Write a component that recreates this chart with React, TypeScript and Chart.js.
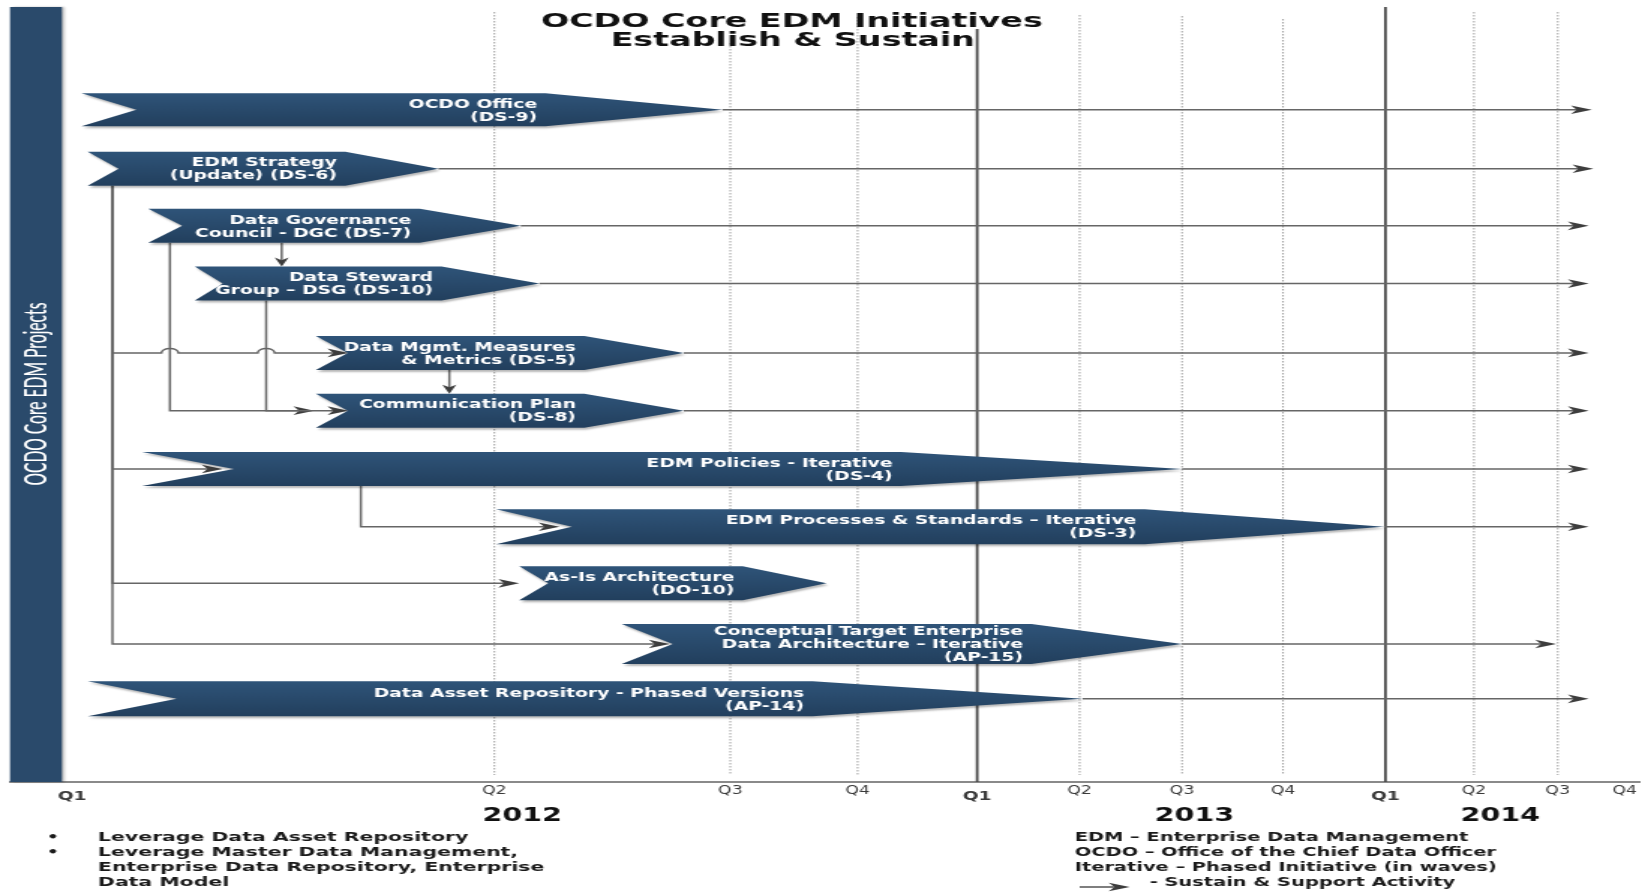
import React, { useEffect, useRef } from 'react';
import { Chart, registerables } from 'chart.js';

Chart.register(...registerables);

// ---------------- data (timeline units on x, row positions on y) ----------------
const quarterLabels = ['Q1', 'Q2', 'Q3', 'Q4', 'Q1', 'Q2', 'Q3', 'Q4', 'Q1', 'Q2', 'Q3', 'Q4'];
const quarterValues = [0, 27.2, 42.4, 50.6, 58.3, 64.9, 71.5, 78.0, 84.6, 90.3, 95.7, 100];
const yearLabels = ['2012', '2013', '2014'];
const yearValues = [29.0, 72.3, 92.0];

const projectLabels: string[][] = [
  ['OCDO Office', '(DS-9)'],
  ['EDM Strategy', '(Update) (DS-6)'],
  ['Data Governance', 'Council - DGC (DS-7)'],
  ['Data Steward', 'Group – DSG (DS-10)'],
  ['Data Mgmt. Measures', '& Metrics (DS-5)'],
  ['Communication Plan', '(DS-8)'],
  ['EDM Policies - Iterative', '(DS-4)'],
  ['EDM Processes & Standards – Iterative', '(DS-3)'],
  ['As-Is Architecture', '(DO-10)'],
  ['Conceptual Target Enterprise', 'Data Architecture – Iterative', '(AP-15)'],
  ['Data Asset Repository - Phased Versions', '(AP-14)'],
];
const rowValues = [1, 2.02, 3.01, 4.01, 5.21, 6.21, 7.22, 8.22, 9.2, 10.25, 11.2];
const startValues = [0.6, 1.0, 4.9, 7.9, 15.7, 15.7, 4.5, 27.3, 28.8, 35.4, 1.0];
const taperValues = [30.5, 17.6, 22.4, 23.8, 33.0, 33.0, 53.4, 69.1, 43.2, 61.8, 47.7];
const endValues = [41.9, 23.6, 28.9, 30.1, 39.4, 39.4, 71.5, 84.5, 48.6, 71.5, 65.1];
const sustainValues: (number | null)[] = [97.9, 98.0, 97.7, 97.7, 97.7, 97.7, 97.7, 97.7, null, 95.6, 97.7];

// dependency links: [fromRow, toRow, drop at (x), arrow tip at (x)]
const elbowLinks = [
  [1, 4, 2.6, 17.8],
  [1, 6, 2.6, 9.7],
  [1, 8, 2.6, 28.8],
  [1, 9, 2.6, 38.5],
  [2, 5, 6.3, 15.6],
  [3, 5, 12.5, 17.8],
  [6, 7, 18.6, 31.4],
];
// straight down links: [fromRow, toRow, x]
const dropLinks = [
  [2, 3, 13.5],
  [4, 5, 24.3],
];
// line hops: [row, x]
const hopMarks = [
  [4, 6.3],
  [4, 12.5],
];

const leftNotes = [
  'Leverage Data Asset Repository',
  'Leverage Master Data Management,',
  'Enterprise Data Repository, Enterprise',
  'Data Model',
];
const leftNoteBullets = [true, true, false, false];
const rightNotes = [
  'EDM – Enterprise Data Management',
  'OCDO – Office of the Chief Data Officer',
  'Iterative – Phased Initiative (in waves)',
  '- Sustain & Support Activity',
];

// ---------------- style ----------------
const SX = 1.5; // the picture is stretched horizontally
const CANVAS_W = Math.round(1648 / SX);
const CANVAS_H = 893;
const lg = (px: number) => px / SX;
const FONT = '"DejaVu Sans", Verdana, sans-serif';
const NAVY_TOP = '#2f5479';
const NAVY_BOTTOM = '#223f5d';
const BAND = '#2a4a6b';
const notchPx = [55, 31, 34, 28, 32, 32, 92, 76, 29, 51, 89];
const barHeightPx = [33, 34, 34, 34, 34, 34, 34, 35, 34, 40, 35];
const gridTopPx: (number | null)[] = [null, 12, 43, 17, 29, 15, 16, 19, 7, 12, 12, null];

function drawText(ctx: any, s: string, x: number, y: number, font: string, color: string, align: string, stretch = 1) {
  ctx.save();
  ctx.font = font;
  ctx.fillStyle = color;
  ctx.textAlign = align;
  ctx.textBaseline = 'middle';
  ctx.translate(x, y);
  ctx.scale(stretch, 1);
  ctx.fillText(s, 0, 0);
  ctx.restore();
}

function arrowRight(ctx: any, x: number, y: number) {
  const len = lg(21);
  const hw = 4.3;
  ctx.beginPath();
  ctx.moveTo(x, y);
  ctx.lineTo(x - len, y - hw);
  ctx.lineTo(x - len * 0.72, y);
  ctx.lineTo(x - len, y + hw);
  ctx.closePath();
  ctx.fill();
}

function arrowDown(ctx: any, x: number, y: number) {
  const len = 9;
  const hw = lg(7);
  ctx.beginPath();
  ctx.moveTo(x, y);
  ctx.lineTo(x - hw, y - len);
  ctx.lineTo(x, y - len * 0.7);
  ctx.lineTo(x + hw, y - len);
  ctx.closePath();
  ctx.fill();
}

const ganttPlugin = {
  id: 'gantt',
  beforeDatasetsDraw(chart: any) {
    const { ctx, chartArea: ca, scales } = chart;
    const xs = scales.x;
    ctx.save();
    quarterValues.forEach((v, i) => {
      const top = gridTopPx[i];
      if (top == null) return;
      const px = xs.getPixelForValue(v);
      const solid = quarterLabels[i] === 'Q1';
      ctx.beginPath();
      ctx.setLineDash(solid ? [] : [1.5, 1.5]);
      ctx.strokeStyle = solid ? '#4a4a4a' : '#a6a6a6';
      ctx.lineWidth = solid ? 1.8 : 1.1;
      ctx.moveTo(px, top);
      ctx.lineTo(px, solid ? ca.bottom : ca.bottom - 7);
      ctx.stroke();
    });
    ctx.setLineDash([]);
    // left band
    ctx.save();
    ctx.shadowColor = 'rgba(0,0,0,0.25)';
    ctx.shadowOffsetX = 2;
    ctx.shadowBlur = 2;
    ctx.fillStyle = BAND;
    ctx.fillRect(ca.left, ca.top, lg(62) - ca.left, ca.bottom - ca.top);
    ctx.restore();
    // vertical label
    ctx.save();
    ctx.font = '500 22px Lato, "Open Sans", sans-serif';
    const label = 'OCDO Core EDM Projects';
    const w = ctx.measureText(label).width;
    ctx.translate(lg(35.5), 394);
    ctx.rotate(-Math.PI / 2);
    ctx.scale(183 / w, 1);
    ctx.fillStyle = '#ffffff';
    ctx.textAlign = 'center';
    ctx.textBaseline = 'middle';
    ctx.fillText(label, 0, 0);
    ctx.restore();
    ctx.restore();
  },
  afterDatasetsDraw(chart: any) {
    const { ctx, scales } = chart;
    const xs = scales.x;
    const meta = chart.getDatasetMeta(0);
    const rows = meta.data.map((el: any, i: number) => ({ start: el.base, end: el.x, y: el.y, h: barHeightPx[i] }));
    ctx.save();
    ctx.strokeStyle = '#666666';
    ctx.fillStyle = '#3d3d3d';
    ctx.lineWidth = 1.5;
    // sustain lines
    rows.forEach((r: any, i: number) => {
      const s = sustainValues[i];
      if (s == null) return;
      const px = xs.getPixelForValue(s);
      ctx.beginPath();
      ctx.moveTo(r.end, r.y);
      ctx.lineTo(px - lg(12), r.y);
      ctx.stroke();
      arrowRight(ctx, px, r.y);
    });
    // elbow links
    const rX = lg(8.5);
    const rY = 4.5;
    elbowLinks.forEach(([from, to, dropAt, tipAt]) => {
      const a = rows[from];
      const b = rows[to];
      const dx = xs.getPixelForValue(dropAt);
      const tx = xs.getPixelForValue(tipAt);
      ctx.beginPath();
      ctx.moveTo(dx, a.y + a.h / 2);
      ctx.lineTo(dx, b.y);
      const hx = hopMarks
        .filter((h) => h[0] === to)
        .map((h) => xs.getPixelForValue(h[1]))
        .filter((p) => p > dx + rX && p < tx)
        .sort((p, q) => p - q);
      hx.forEach((p) => {
        ctx.lineTo(p - rX, b.y);
        ctx.ellipse(p, b.y, rX, rY, 0, Math.PI, 2 * Math.PI);
      });
      ctx.lineTo(tx - lg(12), b.y);
      ctx.stroke();
      arrowRight(ctx, tx, b.y);
    });
    dropLinks.forEach(([from, to, at]) => {
      const a = rows[from];
      const b = rows[to];
      const px = xs.getPixelForValue(at);
      const yEnd = b.y - b.h / 2;
      ctx.beginPath();
      ctx.moveTo(px, a.y + a.h / 2);
      ctx.lineTo(px, yEnd - 6);
      ctx.stroke();
      arrowDown(ctx, px, yEnd);
    });
    // chevrons
    rows.forEach((r: any, i: number) => {
      const s = xs.getPixelForValue(taperValues[i]);
      const n = r.start + lg(notchPx[i]);
      const top = r.y - r.h / 2;
      const bot = r.y + r.h / 2;
      const g = ctx.createLinearGradient(0, top, 0, bot);
      g.addColorStop(0, NAVY_TOP);
      g.addColorStop(1, NAVY_BOTTOM);
      ctx.save();
      ctx.shadowColor = 'rgba(0,0,0,0.28)';
      ctx.shadowOffsetX = 1.2;
      ctx.shadowOffsetY = 2;
      ctx.shadowBlur = 2;
      ctx.beginPath();
      ctx.moveTo(r.start, top);
      ctx.lineTo(s, top);
      ctx.lineTo(r.end, r.y);
      ctx.lineTo(s, bot);
      ctx.lineTo(r.start, bot);
      ctx.lineTo(n, r.y);
      ctx.closePath();
      ctx.fillStyle = g;
      ctx.fill();
      ctx.restore();
      const lines = projectLabels[i];
      const rx = s - lg(8.5);
      lines.forEach((t, k) =>
        drawText(ctx, t, rx, r.y + 1 + (k - (lines.length - 1) / 2) * 13, `bold 12.5px ${FONT}`, '#ffffff', 'right')
      );
    });
    ctx.restore();
  },
  afterDraw(chart: any) {
    const { ctx } = chart;
    ctx.save();
    drawText(ctx, 'OCDO Core EDM Initiatives', lg(792), 21.5, `bold 20px ${FONT}`, '#111111', 'center', 1.11);
    drawText(ctx, 'Establish & Sustain', lg(793), 41, `bold 20px ${FONT}`, '#111111', 'center', 1.11);
    const noteFont = `bold 12.5px ${FONT}`;
    leftNotes.forEach((t, i) => {
      const y = 838 + i * 15;
      if (leftNoteBullets[i]) drawText(ctx, '•', lg(53), y, noteFont, '#1a1a1a', 'center');
      drawText(ctx, t, lg(98), y, noteFont, '#1a1a1a', 'left', 1.09);
    });
    rightNotes.forEach((t, i) => {
      const y = 838 + i * 15;
      if (i === rightNotes.length - 1) {
        ctx.strokeStyle = '#555555';
        ctx.fillStyle = '#3d3d3d';
        ctx.lineWidth = 1.5;
        ctx.beginPath();
        ctx.moveTo(lg(1080), y + 4);
        ctx.lineTo(lg(1120), y + 4);
        ctx.stroke();
        arrowRight(ctx, lg(1130), y + 4);
        drawText(ctx, t, lg(1150), y, noteFont, '#1a1a1a', 'left', 1.035);
      } else {
        drawText(ctx, t, lg(1075), y, noteFont, '#1a1a1a', 'left', 1.035);
      }
    });
    ctx.restore();
  },
};

export default function App() {
  const ref = useRef<HTMLCanvasElement>(null);
  useEffect(() => {
    const canvas = ref.current as HTMLCanvasElement;
    const chart = new Chart(canvas, {
      type: 'bar',
      data: {
        datasets: [
          {
            label: 'Initiatives',
            data: rowValues.map((r, i) => ({ y: r, x: [startValues[i], endValues[i]] })) as any,
            backgroundColor: 'rgba(0,0,0,0)',
            borderWidth: 0,
            barThickness: 34,
          },
        ],
      },
      options: {
        indexAxis: 'y',
        responsive: false,
        animation: false,
        devicePixelRatio: 1,
        layout: { padding: { left: lg(10), right: lg(8), top: 7, bottom: 0 } },
        plugins: { legend: { display: false }, tooltip: { enabled: false }, title: { display: false } },
        scales: {
          y: { type: 'linear', reverse: true, min: -0.78, max: 12.64, display: false, offset: false },
          x: {
            type: 'linear',
            position: 'bottom',
            min: -4,
            max: 101,
            offset: false,
            grid: { display: false, drawTicks: false },
            border: { display: true, color: '#8a8a8a', width: 2 },
            afterBuildTicks: (s: any) => {
              s.ticks = quarterValues.map((v) => ({ value: v }));
            },
            afterFit: (s: any) => {
              s.height = 20;
            },
            ticks: {
              autoSkip: false,
              maxRotation: 0,
              minRotation: 0,
              padding: 2,
              color: '#3a3a3a',
              font: (c: any) =>
                quarterLabels[c.index] === 'Q1'
                  ? { family: 'DejaVu Sans', size: 12.5, weight: 'bold', lineHeight: 2.03 }
                  : { family: 'DejaVu Sans', size: 11.5, weight: 'normal', lineHeight: 1.25 },
              callback: (_v: any, i: number) => quarterLabels[i],
            },
          },
          x2: {
            type: 'linear',
            position: 'bottom',
            weight: 1,
            min: -4,
            max: 101,
            offset: false,
            grid: { display: false, drawTicks: false },
            border: { display: false },
            afterBuildTicks: (s: any) => {
              s.ticks = yearValues.map((v) => ({ value: v }));
            },
            afterFit: (s: any) => {
              s.height = 91;
            },
            ticks: {
              autoSkip: false,
              maxRotation: 0,
              minRotation: 0,
              padding: 3,
              color: '#111111',
              font: { family: 'DejaVu Sans', size: 19, weight: 'bold', lineHeight: 1.2 },
              callback: (_v: any, i: number) => yearLabels[i],
            },
          },
        } as any,
      } as any,
      plugins: [ganttPlugin as any],
    });
    return () => chart.destroy();
  }, []);
  return (
    <div style={{ position: 'fixed', left: 0, top: 0, width: 1648, height: 893, background: '#ffffff', overflow: 'hidden' }}>
      <canvas ref={ref} width={CANVAS_W} height={CANVAS_H} style={{ width: '1648px', height: '893px', display: 'block' }} />
    </div>
  );
}
